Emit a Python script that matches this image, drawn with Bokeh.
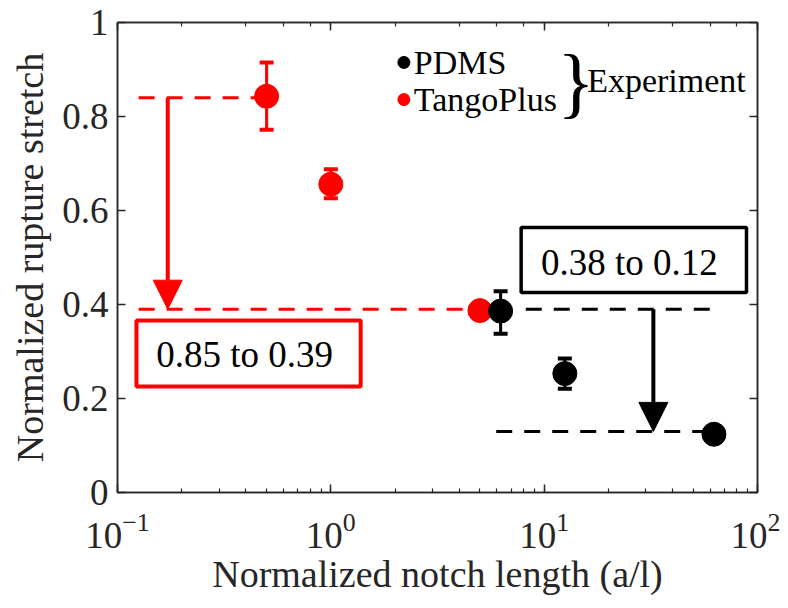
from bokeh.plotting import figure
from bokeh.models import (ColumnDataSource, Whisker, TeeHead, Arrow, NormalHead,
                          BoxAnnotation, LinearAxis, FixedTicker, LogTicker,
                          NumeralTickFormatter, CustomJSTickFormatter, Label, Range1d)
from bokeh.embed import file_html
from bokeh.resources import INLINE

FONT = "Liberation Serif"
AX = "#262626"

# ---------------- data ----------------
tango_x = [0.5, 1.0, 5.0]
tango_y = [0.843, 0.656, 0.387]
tango_lo = [0.772, 0.626, 0.387]
tango_hi = [0.915, 0.688, 0.387]

pdms_x = [6.25, 12.5, 62.5]
pdms_y = [0.386, 0.253, 0.124]
pdms_lo = [0.338, 0.221, 0.124]
pdms_hi = [0.428, 0.285, 0.124]

y_ticks = [0, 0.2, 0.4, 0.6, 0.8, 1.0]

# drop annotations (from -> to)
red_from, red_to = 0.84, 0.39
black_from, black_to = 0.39, 0.13
red_text = "0.85 to 0.39"
black_text = "0.38 to 0.12"

# ---------------- figure ----------------
p = figure(width=780, height=600, x_axis_type="log",
           x_range=Range1d(0.1, 100), y_range=Range1d(0, 1),
           output_backend="svg", toolbar_location=None,
           min_border_left=117, min_border_right=23,
           min_border_top=22, min_border_bottom=108)
p.grid.visible = False
p.outline_line_color = AX
p.outline_line_width = 1.5
p.background_fill_color = "white"
p.border_fill_color = "white"


def style(ax, labels=True):
    ax.axis_line_color = AX
    ax.axis_line_width = 1.5
    ax.major_tick_line_color = AX
    ax.minor_tick_line_color = AX
    ax.major_tick_line_width = 1.5
    ax.minor_tick_line_width = 1.2
    ax.major_tick_in = 8
    ax.major_tick_out = 0
    ax.minor_tick_in = 4
    ax.minor_tick_out = 0
    ax.major_label_text_font = FONT
    ax.major_label_text_color = AX
    if labels:
        ax.major_label_text_font_size = "37px"
    else:
        ax.formatter = CustomJSTickFormatter(code="return '';")
        ax.major_label_text_font_size = "2px"
        ax.major_label_standoff = 0


xa = p.xaxis[0]
ya = p.yaxis[0]
style(xa)
style(ya)
ya.ticker = FixedTicker(ticks=y_ticks)
ya.formatter = NumeralTickFormatter(format="0.[0]")
ya.minor_tick_in = 0
ya.major_label_standoff = 9
xa.major_label_standoff = 20
xa.axis_label = "Normalized notch length (a/l)"
ya.axis_label = "Normalized rupture stretch"
for a in (xa, ya):
    a.axis_label_text_font = FONT
    a.axis_label_text_font_style = "normal"
    a.axis_label_text_font_size = "38px"
    a.axis_label_text_color = AX
xa.axis_label_standoff = 2
ya.axis_label_standoff = 8

ra = LinearAxis(ticker=FixedTicker(ticks=y_ticks))
style(ra, labels=False)
ra.minor_tick_in = 0
p.add_layout(ra, "right")
ta = LinearAxis(ticker=LogTicker())
style(ta, labels=False)
p.add_layout(ta, "above")

# ---------------- guide lines ----------------
dash = "16 12"
p.line([0.1256, tango_x[0]], [red_from, red_from], line_color="red", line_width=3, line_dash=dash)
p.line([0.1256, tango_x[2]], [red_to, red_to], line_color="red", line_width=3, line_dash=dash)
p.line([8.2, 65.6], [black_from, black_from], line_color="black", line_width=3, line_dash=dash)
p.line([5.96, 56.4], [black_to, black_to], line_color="black", line_width=3, line_dash=dash)

p.add_layout(Arrow(x_start=0.172, y_start=red_from, x_end=0.172, y_end=red_to,
                   line_color="red", line_width=4,
                   end=NormalHead(size=29, fill_color="red", line_color="red", line_width=1)))
p.add_layout(Arrow(x_start=32.5, y_start=black_from, x_end=32.5, y_end=black_to,
                   line_color="black", line_width=4,
                   end=NormalHead(size=29, fill_color="black", line_color="black", line_width=1)))

# ---------------- boxes ----------------
p.add_layout(BoxAnnotation(left=0.1227, right=1.38, bottom=0.2255, top=0.366,
                           fill_color="white", fill_alpha=1.0,
                           line_color="red", line_alpha=1.0, line_width=4))
p.add_layout(BoxAnnotation(left=7.8, right=88.8, bottom=0.4255, top=0.564,
                           fill_color="white", fill_alpha=1.0,
                           line_color="black", line_alpha=1.0, line_width=3.5))
p.add_layout(Label(x=0.394, y=0.294, text=red_text, text_align="center",
                   text_baseline="middle", text_font=FONT, text_font_size="37px",
                   text_color="black"))
p.add_layout(Label(x=25.1, y=0.489, text=black_text, text_align="center",
                   text_baseline="middle", text_font=FONT, text_font_size="37px",
                   text_color="black"))

# ---------------- data with error bars ----------------
src_t = ColumnDataSource(dict(x=tango_x, y=tango_y, lo=tango_lo, hi=tango_hi))
src_p = ColumnDataSource(dict(x=pdms_x, y=pdms_y, lo=pdms_lo, hi=pdms_hi))
for src, col in ((src_t, "red"), (src_p, "black")):
    p.add_layout(Whisker(source=src, base="x", lower="lo", upper="hi", dimension="height",
                         line_color=col, line_width=3, level="underlay",
                         upper_head=TeeHead(size=14, line_color=col, line_width=4),
                         lower_head=TeeHead(size=14, line_color=col, line_width=4)))
p.scatter("x", "y", source=src_t, size=24, fill_color="red", line_color="red")
p.scatter("x", "y", source=src_p, size=24, fill_color="black", line_color="black")

# ---------------- legend ----------------
leg_x = 2.2
leg_tx = 2.45
leg_y = [0.915, 0.836]
p.scatter([leg_x, leg_x], leg_y, size=12, fill_color=["black", "red"], line_color=["black", "red"])
for yy, t in zip(leg_y, ["PDMS", "TangoPlus"]):
    p.add_layout(Label(x=leg_tx, y=yy, text=t, text_align="left", text_baseline="middle",
                       text_font=FONT, text_font_size="34px", text_color="black"))
p.add_layout(Label(x=14.1, y=0.872, text="}", text_align="center", text_baseline="middle",
                   text_font=FONT, text_font_size="78px", text_color="black"))
p.add_layout(Label(x=15.9, y=0.877, text="Experiment", text_align="left", text_baseline="middle",
                   text_font=FONT, text_font_size="34px", text_color="black"))

open("out.html", "w").write(file_html(p, INLINE))
